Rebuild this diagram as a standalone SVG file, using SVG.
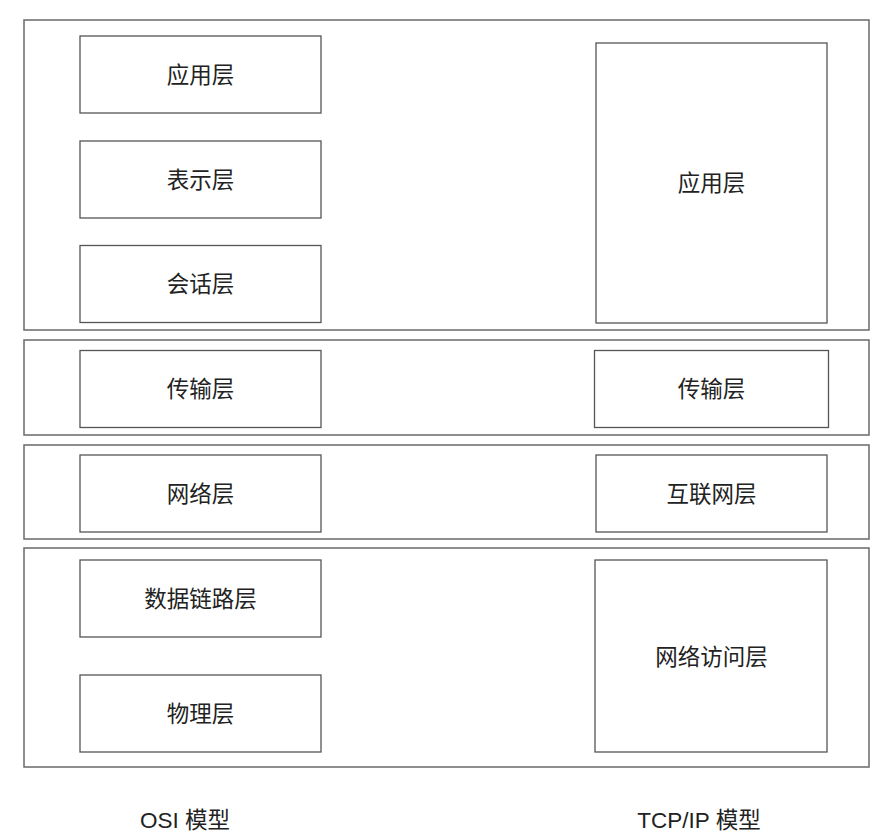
<svg xmlns="http://www.w3.org/2000/svg" width="892" height="840" viewBox="0 0 892 840">
<style>
.outer{fill:#fff;stroke:#6a6a6a;stroke-width:1.5}
.box{fill:#fff;stroke:#555;stroke-width:1.3}
.lbl{font-family:"Liberation Sans","Noto Sans CJK SC",sans-serif;font-size:22.5px;fill:#222;text-anchor:middle;dominant-baseline:central}
.cap{font-family:"Liberation Sans","Noto Sans CJK SC",sans-serif;font-size:22.5px;fill:#222;text-anchor:middle}
</style>
<rect width="892" height="840" fill="#fff"/>
<g id="band-app"><rect class="outer" x="24" y="20" width="845" height="310"/></g>
<g id="band-transport"><rect class="outer" x="24" y="340" width="845" height="95"/></g>
<g id="band-network"><rect class="outer" x="24" y="445" width="845" height="94"/></g>
<g id="band-link"><rect class="outer" x="24" y="548" width="845" height="219"/></g>

<g id="osi-app"><rect class="box" x="80" y="36" width="241" height="77"/><text class="lbl" x="200.5" y="75">应用层</text></g>
<g id="osi-pres"><rect class="box" x="80" y="141" width="241" height="77"/><text class="lbl" x="200.5" y="180">表示层</text></g>
<g id="osi-sess"><rect class="box" x="80" y="245.5" width="241" height="77"/><text class="lbl" x="200.5" y="284">会话层</text></g>
<g id="osi-trans"><rect class="box" x="80" y="350.5" width="241" height="77"/><text class="lbl" x="200.5" y="389">传输层</text></g>
<g id="osi-net"><rect class="box" x="80" y="455" width="241" height="77"/><text class="lbl" x="200.5" y="494">网络层</text></g>
<g id="osi-link"><rect class="box" x="80" y="560" width="241" height="77"/><text class="lbl" x="200.5" y="599">数据链路层</text></g>
<g id="osi-phys"><rect class="box" x="80" y="675" width="241" height="77"/><text class="lbl" x="200.5" y="714">物理层</text></g>

<g id="tcp-app"><rect class="box" x="596" y="43" width="231" height="280"/><text class="lbl" x="711.5" y="183">应用层</text></g>
<g id="tcp-trans"><rect class="box" x="594.5" y="350.5" width="234" height="77"/><text class="lbl" x="711.5" y="389">传输层</text></g>
<g id="tcp-inet"><rect class="box" x="596" y="455" width="231" height="77"/><text class="lbl" x="711.5" y="494">互联网层</text></g>
<g id="tcp-access"><rect class="box" x="595" y="560" width="232" height="192"/><text class="lbl" x="711.5" y="657">网络访问层</text></g>

<g id="connectors"></g>

<g id="captions">
<text class="cap" x="185" y="828">OSI 模型</text>
<text class="cap" x="699" y="828">TCP/IP 模型</text>
</g>
</svg>
